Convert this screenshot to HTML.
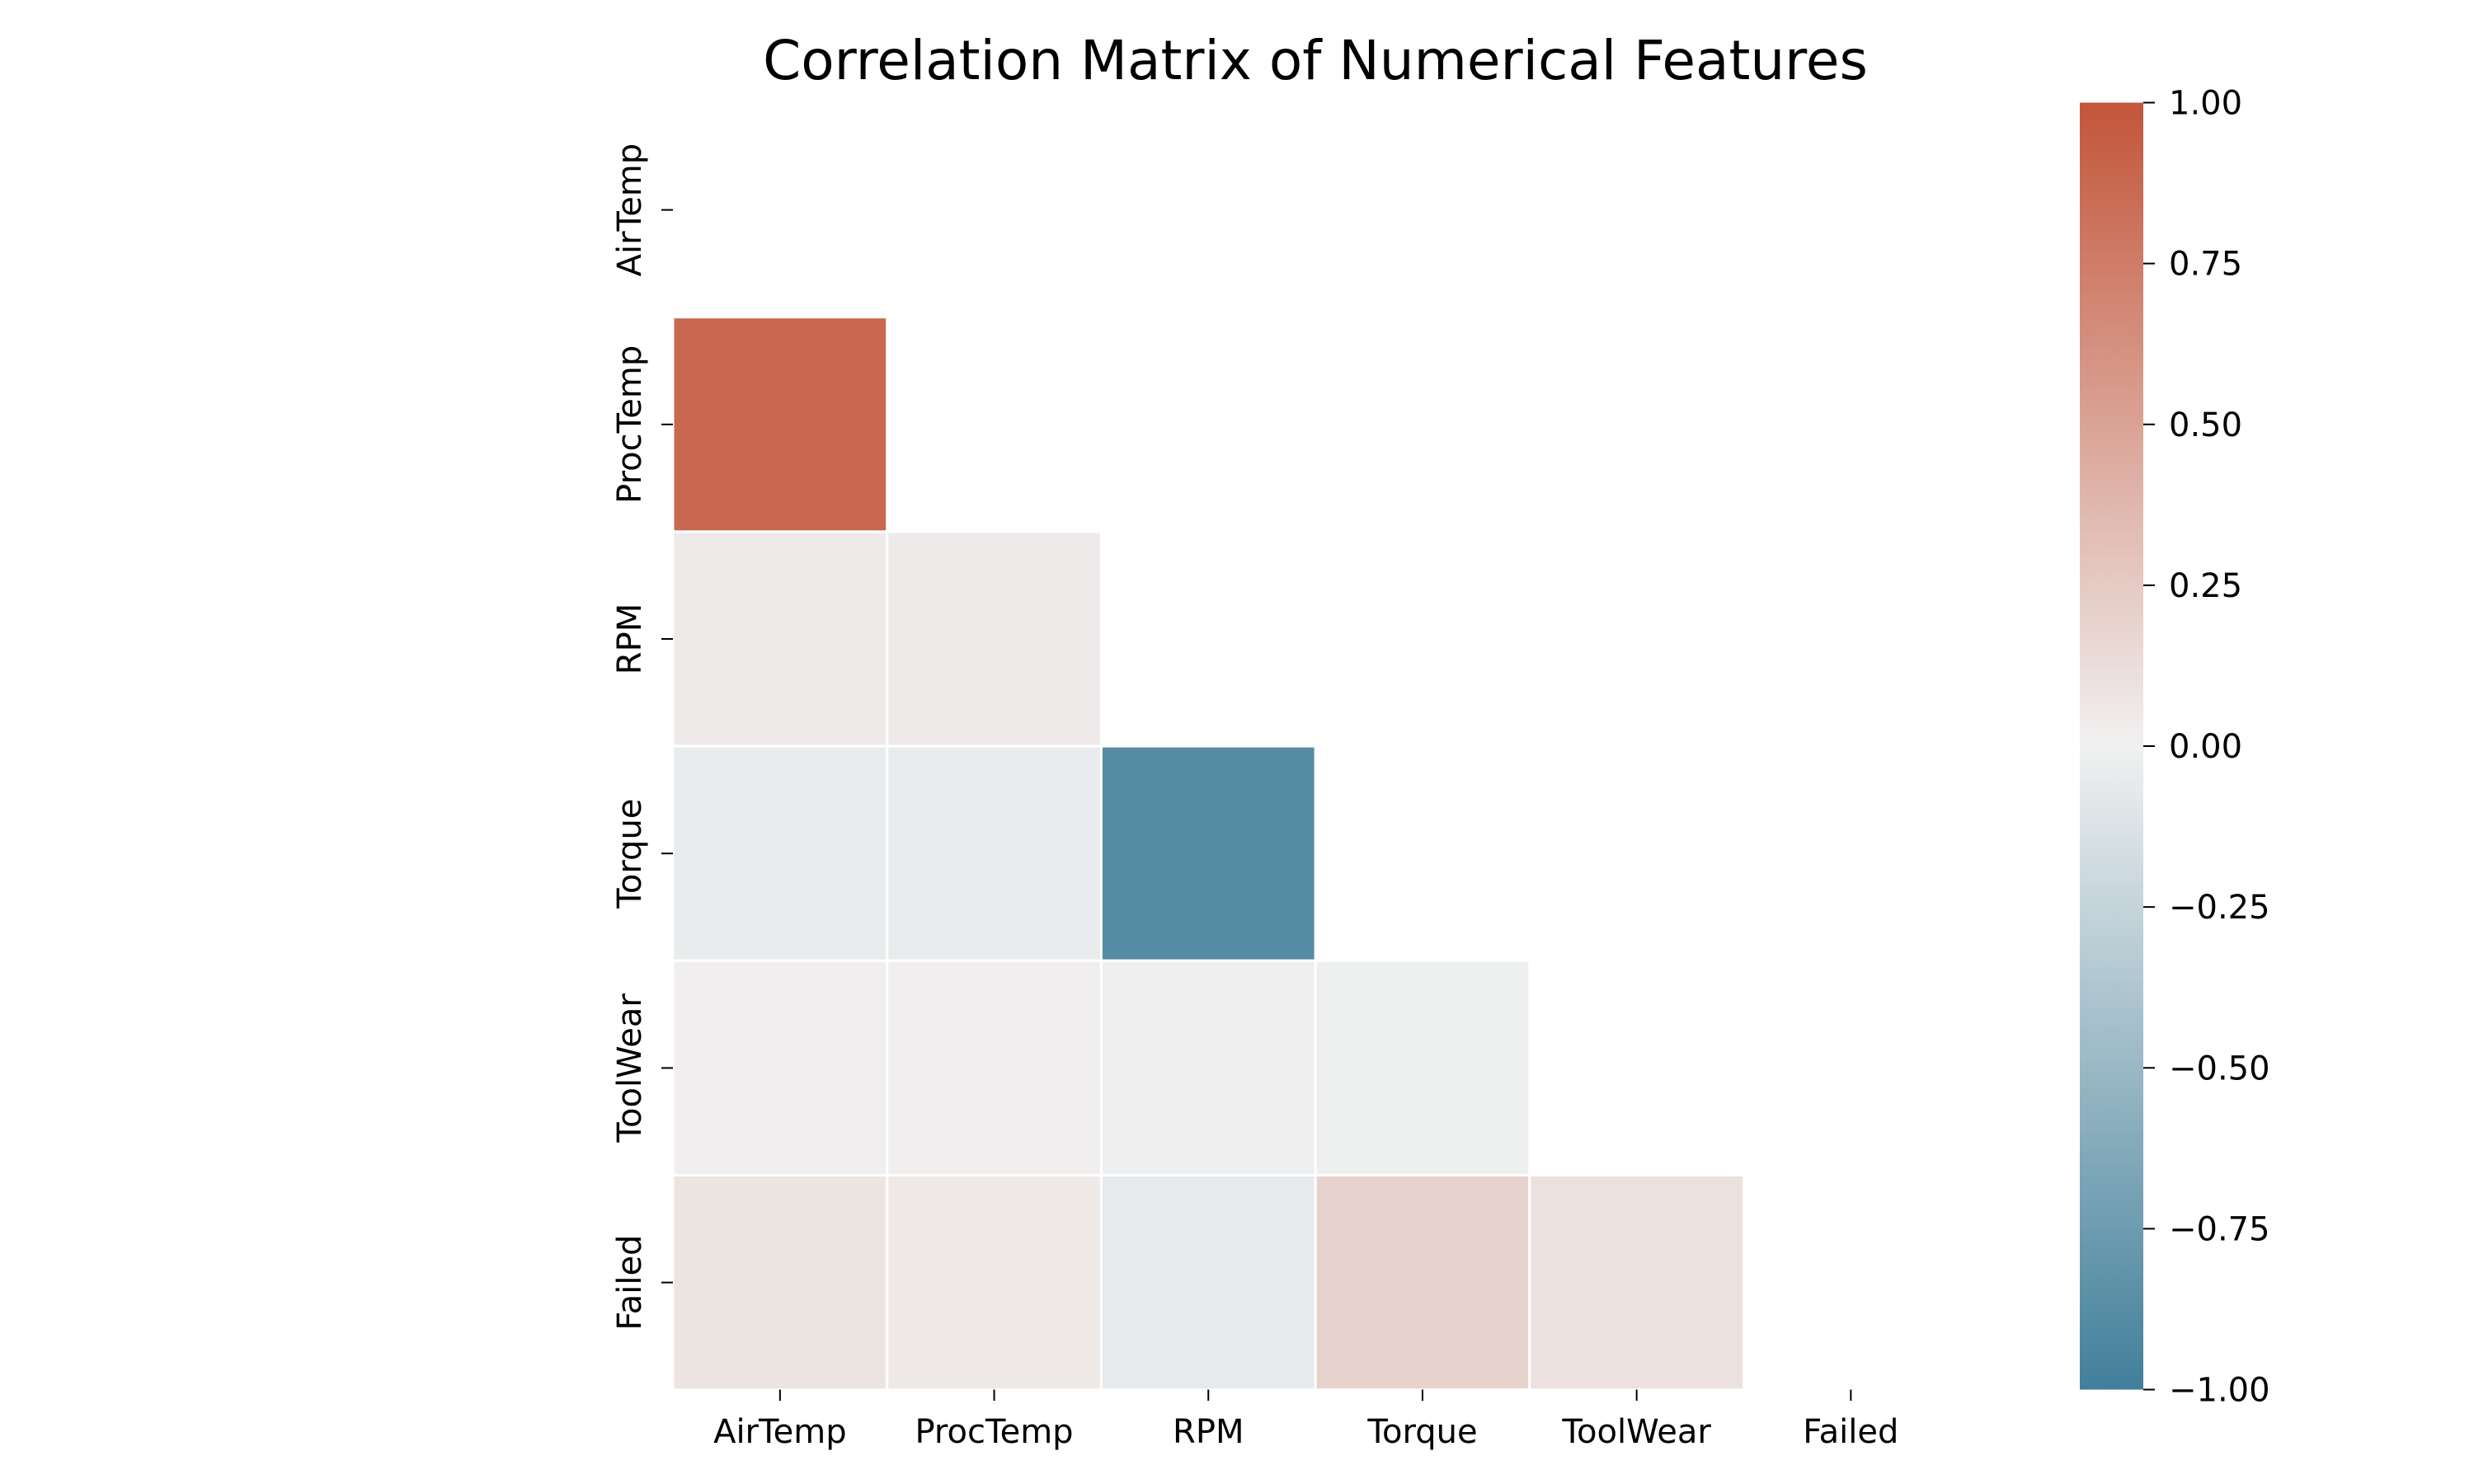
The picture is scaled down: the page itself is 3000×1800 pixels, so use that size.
<!DOCTYPE html>
<html><head><meta charset="utf-8"><style>
html,body{margin:0;padding:0;background:#fff;}
svg{display:block;font-family:"DejaVu Sans","Liberation Sans",sans-serif;}
</style></head><body>
<svg id="chart" width="3000" height="1800" viewBox="0 0 3000 1800" xmlns="http://www.w3.org/2000/svg">
<text x="1595" y="96" font-size="66" text-anchor="middle">Correlation Matrix of Numerical Features</text>
<defs><linearGradient id="cbg" x1="0" y1="0" x2="0" y2="1">
<stop offset="0" stop-color="#c3553a"/><stop offset="0.5" stop-color="#f1f1f1"/><stop offset="1" stop-color="#417f9a"/></linearGradient></defs>
<g id="cells"></g>
<g id="axes"></g>
<rect x="2522" y="124.5" width="77" height="1561" fill="url(#cbg)"/>
<g id="cbar"></g>
</svg>
<script>
const labels = ["AirTemp","ProcTemp","RPM","Torque","ToolWear","Failed"];
const rowProcTemp = [0.88];
const rowRPM = [0.04, 0.04];
const rowTorque = [-0.04, -0.04, -0.88];
const rowToolWear = [0.01, 0.01, 0.005, -0.01];
const rowFailed = [0.08, 0.05, -0.05, 0.19, 0.10];
const rows = [[], rowProcTemp, rowRPM, rowTorque, rowToolWear, rowFailed];
const cbTicks = [1, 0.75, 0.5, 0.25, 0, -0.25, -0.5, -0.75, -1];
const cbTickLabels = ["1.00","0.75","0.50","0.25","0.00","\u22120.25","\u22120.50","\u22120.75","\u22121.00"];

const NS = "http://www.w3.org/2000/svg";
const X0 = 816, Y0 = 124.5, CW = 259.7, CH = 260.2;
const xPos = i => X0 + i * CW;
const yPos = j => Y0 + j * CH;
const cbY = v => 124.5 + (1 - v) / 2 * 1561;
const POS = [195, 85, 58], MID = [240, 240, 240], NEG = [65, 127, 154];
function color(v) {
  const t = Math.min(1, Math.abs(v)), e = v >= 0 ? POS : NEG;
  const c = MID.map((m, k) => Math.round(m + (e[k] - m) * t));
  return "rgb(" + c.join(",") + ")";
}
function mk(tag, attrs, parent) {
  const el = document.createElementNS(NS, tag);
  for (const k in attrs) el.setAttribute(k, attrs[k]);
  parent.appendChild(el);
  return el;
}
const cells = document.getElementById("cells");
rows.forEach((row, j) => row.forEach((v, i) => {
  const r = mk("rect", {x: xPos(i), y: yPos(j), width: CW, height: CH, fill: color(v), stroke: "#fff", "stroke-width": 3}, cells);
  
  
}));
const axes = document.getElementById("axes");
labels.forEach((l, i) => {
  const cx = xPos(i) + CW / 2;
  mk("line", {x1: cx, x2: cx, y1: 1685.5, y2: 1699, stroke: "#000", "stroke-width": 2}, axes);
  const t = mk("text", {x: cx, y: 1750, "font-size": 40, "text-anchor": "middle"}, axes);
  t.textContent = l;
  
  
  const cy = yPos(i) + CH / 2;
  mk("line", {x1: 802, x2: 816, y1: cy, y2: cy, stroke: "#000", "stroke-width": 2}, axes);
  const ty = mk("text", {x: 0, y: 0, "font-size": 40, "text-anchor": "middle", transform: "translate(777," + cy + ") rotate(-90)"}, axes);
  ty.textContent = l;
  
  
});
const cbar = document.getElementById("cbar");
cbTicks.forEach((v, k) => {
  const y = cbY(v);
  mk("line", {x1: 2599, x2: 2613, y1: y, y2: y, stroke: "#000", "stroke-width": 2}, cbar);
  const t = mk("text", {x: 2630, y: y + 14, "font-size": 40}, cbar);
  t.textContent = cbTickLabels[k];
  
  
});
</script>
</body></html>
